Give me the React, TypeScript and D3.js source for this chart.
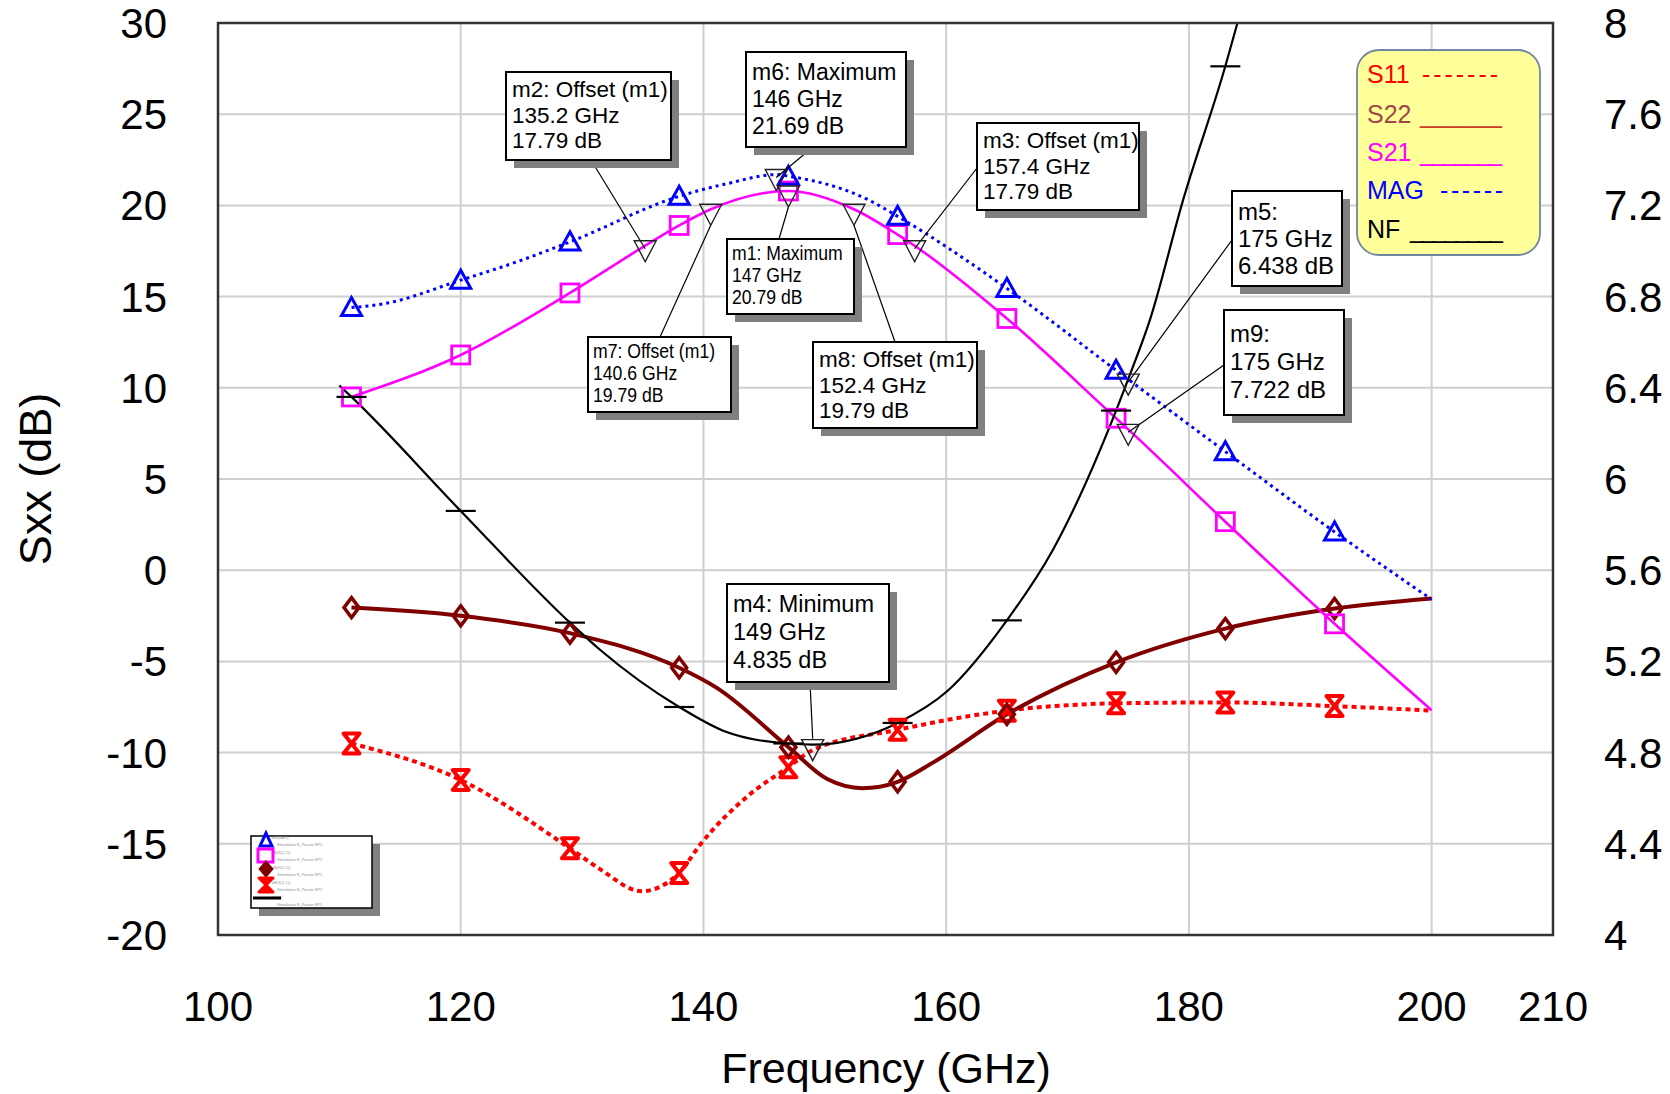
import React from 'react';
import * as d3 from 'd3';

// ---------------- data ----------------
const xTickValues = [100, 120, 140, 160, 180, 200, 210];
const xGridValues = [120, 140, 160, 180, 200];
const leftTickValues = [30, 25, 20, 15, 10, 5, 0, -5, -10, -15, -20];
const leftGridValues = [25, 20, 15, 10, 5, 0, -5, -10, -15];
const rightTickValues = [8, 7.6, 7.2, 6.8, 6.4, 6, 5.6, 5.2, 4.8, 4.4, 4];
const symbolFreqs = [111, 120, 129, 138, 147, 156, 165, 174, 183, 192];

const magFreq = [111, 113.6, 120, 124.6, 129, 138, 142, 146, 147, 153.6, 156, 165, 174, 183, 192, 200];
const magDb = [14.4, 14.6, 15.9, 16.9, 18.0, 20.5, 21.2, 21.69, 21.6, 20.3, 19.4, 15.45, 10.96, 6.5, 2.1, -1.6];

const s21Freq = [111, 120, 129, 135.2, 138, 140.6, 147, 152.4, 156, 157.4, 165, 174, 175, 183, 192, 200];
const s21Db = [9.5, 11.8, 15.2, 17.79, 18.9, 19.79, 20.79, 19.79, 18.4, 17.79, 13.8, 8.33, 7.722, 2.66, -2.94, -7.68];

const s22Freq = [111, 120, 129, 138, 141.1, 147, 150.2, 153.1, 156, 158.9, 165, 174, 183, 192, 200];
const s22Db = [-2.05, -2.5, -3.45, -5.35, -6.45, -9.7, -11.45, -11.95, -11.6, -10.55, -7.9, -5.05, -3.2, -2.1, -1.55];

const s11Freq = [111, 120, 129, 131.5, 134.9, 138, 139.7, 143.8, 147, 149, 156, 165, 174, 183, 192, 200];
const s11Db = [-9.5, -11.5, -15.25, -16.4, -17.6, -16.6, -15.07, -12.3, -10.8, -9.86, -8.75, -7.7, -7.3, -7.25, -7.45, -7.7];

const nfFreq = [110, 111, 120, 129, 131.5, 138, 141.9, 147, 149, 156, 160.1, 165, 168.8, 174, 175, 176.8, 179.5, 183, 184];
const nfDb = [6.41, 6.36, 5.86, 5.37, 5.25, 5.0, 4.89, 4.84, 4.835, 4.93, 5.07, 5.38, 5.69, 6.30, 6.438, 6.70, 7.22, 7.81, 8.0];

const calloutNames = ['m2', 'm6', 'm3', 'm1', 'm7', 'm8', 'm4', 'm5', 'm9'];
const calloutSeries = ['S21', 'MAG', 'S21', 'S21', 'S21', 'S21', 'NF', 'NF', 'S21'];
const calloutFreqs = [135.2, 146, 157.4, 147, 140.6, 152.4, 149, 175, 175];
const calloutValues = [17.79, 21.69, 17.79, 20.79, 19.79, 19.79, 4.835, 6.438, 7.722];
const calloutTitles = ['m2: Offset (m1)', 'm6: Maximum', 'm3: Offset (m1)', 'm1: Maximum', 'm7: Offset (m1)',
  'm8: Offset (m1)', 'm4: Minimum', 'm5:', 'm9:'];

const legendNames = ['S11', 'S22', 'S21', 'MAG', 'NF'];
const legendTrails = ['-------', '______', '_______', '------', '________'];

const miniLegendShort = ['dB(MAG)', 'dB(S(2,2))', 'dB(S(2,1))', 'dB(S(1,1))', 'NF(2)'];
const miniLegendLong = ['Simulation:S_Param SP1', 'Simulation:S_Param SP1', 'Simulation:S_Param SP1', 'Simulation:S_Param SP1', 'Simulation:S_Param SP1'];

// ---------------- layout (annotation boxes) ----------------
const boxLayout: Record<string, any> = {
  m2: { x: 506, y: 72, w: 165, h: 88, fs: 22.5, lh: 25.5, b0: 25, ax: 591, ay: 160, narrow: false },
  m6: { x: 746, y: 52, w: 160, h: 95, fs: 23, lh: 27, b0: 28, ax: 813, ay: 147, narrow: false },
  m3: { x: 977, y: 123, w: 162, h: 87, fs: 22.5, lh: 25.5, b0: 25, ax: 977, ay: 168, narrow: false },
  m1: { x: 727, y: 239, w: 127, h: 75, fs: 20.5, lh: 22, b0: 21, ax: 779, ay: 239, narrow: true },
  m7: { x: 588, y: 337, w: 143, h: 75, fs: 20.5, lh: 22, b0: 21, ax: 660, ay: 337, narrow: true },
  m8: { x: 813, y: 342, w: 164, h: 86, fs: 22.5, lh: 25.5, b0: 25, ax: 895, ay: 342, narrow: false },
  m4: { x: 727, y: 584, w: 162, h: 98, fs: 23.5, lh: 28, b0: 28, ax: 810, ay: 682, narrow: false },
  m5: { x: 1232, y: 191, w: 110, h: 95, fs: 24, lh: 27, b0: 29, ax: 1232, ay: 240, narrow: false },
  m9: { x: 1224, y: 310, w: 120, h: 105, fs: 24, lh: 28, b0: 32, ax: 1224, ay: 365, narrow: false },
};

const FONT = '"Liberation Sans", Arial, Helvetica, sans-serif';

function fmtGHz(f: number) {
  return `${f} GHz`;
}
function fmtDb(v: number) {
  return `${v} dB`;
}

function Symbol({ kind, cx, cy, color }: { kind: string; cx: number; cy: number; color: string }) {
  if (kind === 'triangle') {
    return <path d={`M${cx},${cy - 10}L${cx - 10},${cy + 8}L${cx + 10},${cy + 8}Z`} fill="none" stroke={color} strokeWidth={3} />;
  }
  if (kind === 'square') {
    return <rect x={cx - 9} y={cy - 9} width={18} height={18} fill="none" stroke={color} strokeWidth={2.8} />;
  }
  if (kind === 'diamond') {
    return <path d={`M${cx},${cy - 10}L${cx + 7.5},${cy}L${cx},${cy + 10}L${cx - 7.5},${cy}Z`} fill="none" stroke={color} strokeWidth={3.5} />;
  }
  if (kind === 'hourglass') {
    return <path d={`M${cx - 8},${cy - 10}L${cx + 8},${cy - 10}L${cx - 8},${cy + 10}L${cx + 8},${cy + 10}Z`} fill="none" stroke={color} strokeWidth={4} strokeLinejoin="round" />;
  }
  return <line x1={cx - 15} x2={cx + 15} y1={cy} y2={cy} stroke={color} strokeWidth={2.2} />;
}

export default function App() {
  const x = d3.scaleLinear().domain([100, 210]).range([218, 1553]);
  const yL = d3.scaleLinear().domain([-20, 30]).range([935, 23]);
  const yR = d3.scaleLinear().domain([4, 8]).range([935, 23]);
  const plot = { left: x(100), right: x(210), top: yL(30), bottom: yL(-20) };

  const zip = (fs: number[], vs: number[]) => fs.map((f, i) => ({ f, v: vs[i] }));

  const series = [
    { name: 'S11', data: zip(s11Freq, s11Db), y: yL, color: '#ff0000', width: 4, dash: '5 4', symbol: 'hourglass' },
    { name: 'S22', data: zip(s22Freq, s22Db), y: yL, color: '#800000', width: 4, dash: undefined, symbol: 'diamond' },
    { name: 'S21', data: zip(s21Freq, s21Db), y: yL, color: '#ff00ff', width: 2.6, dash: undefined, symbol: 'square' },
    { name: 'MAG', data: zip(magFreq, magDb), y: yL, color: '#0000ff', width: 3, dash: '3 4', symbol: 'triangle' },
    { name: 'NF', data: zip(nfFreq, nfDb), y: yR, color: '#000000', width: 2.2, dash: undefined, symbol: 'dash' },
  ];

  const legendColors = ['#ff0000', '#a04848', '#ff00ff', '#0000ff', '#000000'];
  const trailColors = ['#ff0000', '#d03a28', '#ff00ff', '#0000ff', '#000000'];
  const trailX = [1422, 1420, 1420, 1440, 1410];
  const trailLen = [76, 82, 82, 63, 93];
  const legendBase = [83, 123, 161, 199, 238];

  return (
    <div style={{ position: 'absolute', left: 0, top: 0, width: 1670, height: 1094, background: '#fff' }}>
      <svg width={1670} height={1094} viewBox="0 0 1670 1094" style={{ display: 'block' }} fontFamily={FONT}>
        <defs>
          <clipPath id="plotClip">
            <rect x={plot.left} y={plot.top} width={plot.right - plot.left} height={plot.bottom - plot.top} />
          </clipPath>
        </defs>
        <rect x={0} y={0} width={1670} height={1094} fill="#fff" />

        {/* grid */}
        {xGridValues.map((v) => (
          <line key={'gx' + v} x1={x(v)} x2={x(v)} y1={plot.top} y2={plot.bottom} stroke="#cfcfcf" strokeWidth={2} />
        ))}
        {leftGridValues.map((v) => (
          <line key={'gy' + v} x1={plot.left} x2={plot.right} y1={yL(v)} y2={yL(v)} stroke="#cfcfcf" strokeWidth={2} />
        ))}

        {/* curves */}
        <g clipPath="url(#plotClip)">
          {series.map((s) => {
            const gen = d3
              .line<{ f: number; v: number }>()
              .x((d) => x(d.f))
              .y((d) => s.y(d.v))
              .curve(d3.curveMonotoneX);
            return (
              <path key={s.name} d={gen(s.data) || ''} fill="none" stroke={s.color} strokeWidth={s.width}
                strokeDasharray={s.dash} strokeLinejoin="round" />
            );
          })}
          {series.map((s) => (
            <g key={s.name + 'sym'}>
              {s.data
                .filter((d) => symbolFreqs.includes(d.f))
                .map((d) => (
                  <Symbol key={d.f} kind={s.symbol} cx={x(d.f)} cy={s.y(d.v)} color={s.color} />
                ))}
            </g>
          ))}
        </g>

        {/* marker callouts */}
        {calloutNames.map((name, i) => {
          const L = boxLayout[name];
          const yScale = calloutSeries[i] === 'NF' ? yR : yL;
          const mx = x(calloutFreqs[i]);
          const my = yScale(calloutValues[i]);
          const endY = L.ay > my + 16 ? my + 16 : L.ay < my - 6 && Math.abs(L.ax - mx) < 5 ? my - 6 : my + 3;
          return (
            <g key={'lead' + name}>
              <line x1={L.ax} y1={L.ay} x2={mx} y2={endY} stroke="#000" strokeWidth={1.2} />
              <path d={`M${mx - 11},${my - 5}L${mx + 11},${my - 5}L${mx},${my + 16}Z`} fill="none" stroke="#222" strokeWidth={1.4} />
            </g>
          );
        })}
        {calloutNames.map((name, i) => {
          const L = boxLayout[name];
          const lines = [calloutTitles[i], fmtGHz(calloutFreqs[i]), fmtDb(calloutValues[i])];
          const tx = L.x + (L.narrow ? 5 : 6);
          return (
            <g key={'box' + name}>
              <rect x={L.x + 8} y={L.y + 8} width={L.w} height={L.h} fill="#808080" />
              <rect x={L.x} y={L.y} width={L.w} height={L.h} fill="#fff" stroke="#000" strokeWidth={2} />
              {lines.map((t, j) => (
                <text key={j} transform={`translate(${tx},${L.y + L.b0 + j * L.lh}) scale(${L.narrow ? 0.86 : 1},1)`}
                  fontSize={L.fs} fill="#000">
                  {t}
                </text>
              ))}
            </g>
          );
        })}

        {/* mini legend (bottom-left) */}
        <g>
          <rect x={259} y={844} width={121} height={72} fill="#808080" />
          <rect x={251} y={836} width={121} height={72} fill="#fff" stroke="#000" strokeWidth={1.5} />
          {miniLegendShort.map((t, i) => (
            <g key={'ml' + i}>
              <text x={272} y={839 + i * 15} fontSize={4} fill="#999">{t}</text>
              <text x={277} y={846 + i * 15} fontSize={4} fill="#8890a0">{miniLegendLong[i]}</text>
            </g>
          ))}
          <path d="M266,833L260,846L272,846Z" fill="none" stroke="#0000ff" strokeWidth={3} />
          <rect x={258} y={849} width={15} height={13} fill="none" stroke="#ff00ff" strokeWidth={3} />
          <path d="M266,862L272,869L266,876L260,869Z" fill="#800000" stroke="#800000" strokeWidth={2.5} />
          <path d="M259,878L273,878L259,892L273,892Z" fill="#ff0000" stroke="#ff0000" strokeWidth={3} strokeLinejoin="round" />
          <line x1={253} x2={281} y1={898} y2={898} stroke="#000" strokeWidth={3} />
        </g>

        {/* yellow legend */}
        <g>
          <rect x={1357} y={50} width={183} height={205} rx={22} ry={22} fill="#ffff99" stroke="#6f88a0" strokeWidth={1.8} />
          {legendNames.map((n, i) => (
            <g key={'lg' + n}>
              <text x={1367} y={legendBase[i]} fontSize={25} fill={legendColors[i]}>{n}</text>
              <text x={trailX[i]} y={legendBase[i]} fontSize={25} fill={trailColors[i]} textLength={trailLen[i]} lengthAdjust="spacing">
                {legendTrails[i]}
              </text>
            </g>
          ))}
        </g>

        {/* frame */}
        <rect x={plot.left} y={plot.top} width={plot.right - plot.left} height={plot.bottom - plot.top} fill="none" stroke="#333" strokeWidth={2.5} />

        {/* axis labels */}
        {leftTickValues.map((v) => (
          <text key={'lt' + v} x={167} y={yL(v) + 15} fontSize={42} textAnchor="end" fill="#000">{String(v)}</text>
        ))}
        {rightTickValues.map((v) => (
          <text key={'rt' + v} x={1604} y={yR(v) + 15} fontSize={42} textAnchor="start" fill="#000">{String(v)}</text>
        ))}
        {xTickValues.map((v) => (
          <text key={'xt' + v} x={x(v)} y={1021} fontSize={42} textAnchor="middle" fill="#000">{String(v)}</text>
        ))}
        <text x={(plot.left + plot.right) / 2 + 0.5} y={1083} fontSize={43} textAnchor="middle" fill="#000">Frequency (GHz)</text>
        <text transform={`translate(51,${479}) rotate(-90)`} fontSize={45} textAnchor="middle" fill="#000">Sxx (dB)</text>
      </svg>
    </div>
  );
}
